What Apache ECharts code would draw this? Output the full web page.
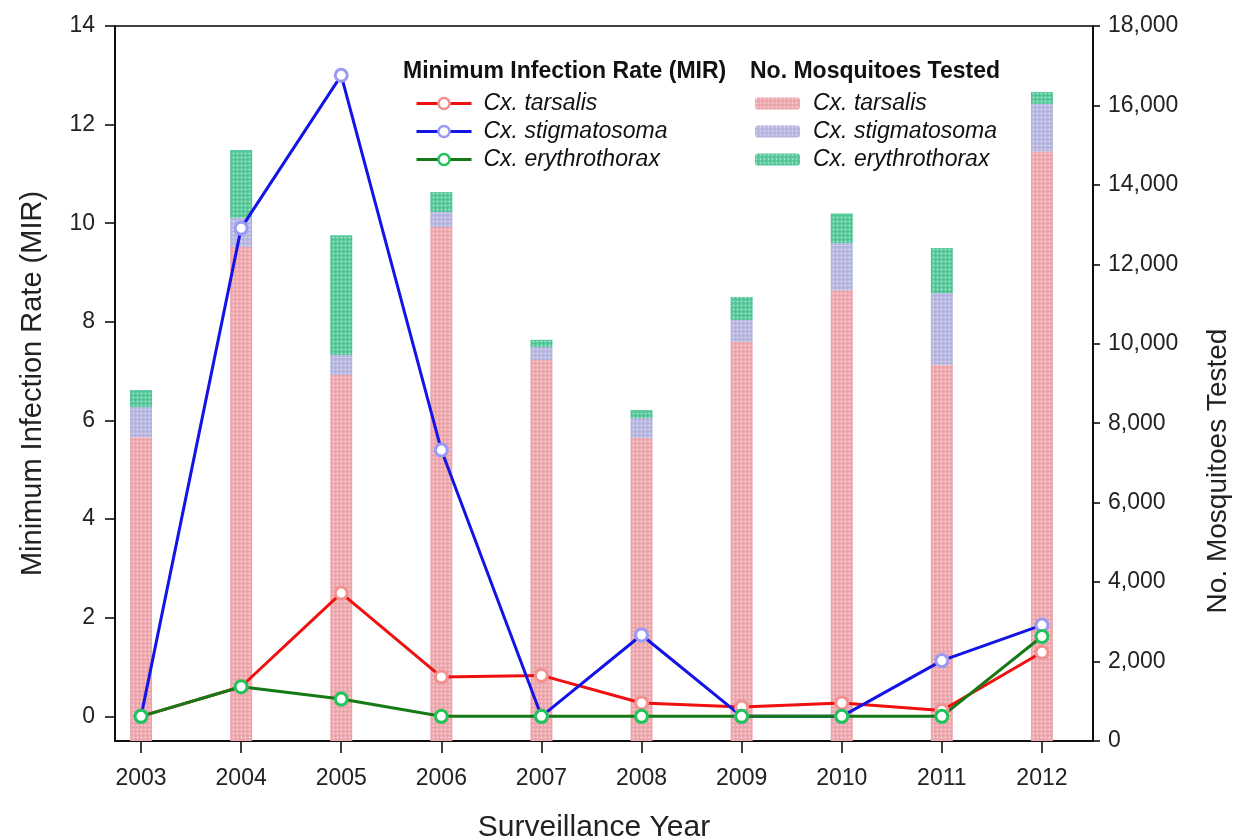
<!DOCTYPE html>
<html>
<head>
<meta charset="utf-8">
<script src="https://cdn.jsdelivr.net/npm/echarts@6/dist/echarts.min.js"></script>
<style>html,body{margin:0;padding:0;background:#fff}#c{width:1238px;height:840px}</style>
</head>
<body>
<div id="c"></div>
<script>
const years = [2003, 2004, 2005, 2006, 2007, 2008, 2009, 2010, 2011, 2012];
// Minimum infection rate (left axis)
const mirTarsalis = [0, 0.6, 2.5, 0.8, 0.83, 0.27, 0.19, 0.27, 0.12, 1.3];
const mirStigmatosoma = [0, 9.9, 13.0, 5.4, 0, 1.65, 0, 0, 1.13, 1.85];
const mirErythrothorax = [0, 0.6, 0.35, 0, 0, 0, 0, 0, 0, 1.62];
// Number of mosquitoes tested (right axis, stacked)
const testedTarsalis = [7650, 12440, 9215, 12940, 9590, 7630, 10050, 11350, 9470, 14840];
const testedStigmatosoma = [755, 730, 500, 380, 330, 500, 550, 1180, 1810, 1200];
const testedErythrothorax = [430, 1710, 3020, 500, 180, 200, 580, 750, 1130, 300];
const leftTicks = [0, 2, 4, 6, 8, 10, 12, 14];

const pair = arr => years.map((y, i) => [y, arr[i]]);
// value first so that the stack is computed on the value (y) dimension
const pairValueFirst = arr => years.map((y, i) => [arr[i], y]);
const FONT = '"Liberation Sans", Arial, sans-serif';

function barSeries(name, data, color) {
  return {
    type: 'bar', name: name, stack: 'tested', xAxisIndex: 0, yAxisIndex: 1,
    barWidth: 22, z: 1,
    dimensions: [{ name: 'count', type: 'float' }, { name: 'year', type: 'float' }],
    encode: { x: 'year', y: 'count' },
    data: pairValueFirst(data),
    itemStyle: {
      color: color,
      decal: { symbol: 'circle', symbolSize: 0.7, color: 'rgba(255,255,255,0.55)', dashArrayX: [[3, 1]], dashArrayY: [3, 1] }
    },
    emphasis: { disabled: true }
  };
}
function lineSeries(name, data, color, mcolor) {
  return {
    type: 'line', name: name, xAxisIndex: 0, yAxisIndex: 0, data: pair(data), z: 5,
    symbol: 'circle', symbolSize: 12, showAllSymbol: true,
    lineStyle: { color: color, width: 3 },
    itemStyle: { color: '#ffffff', borderColor: mcolor, borderWidth: 3 },
    emphasis: { disabled: true }
  };
}

const chart = echarts.init(document.getElementById('c'), null, { renderer: 'canvas' });
chart.setOption({
  animation: false,
  backgroundColor: '#ffffff',
  grid: { left: 115, right: 145, top: 26, bottom: 99, containLabel: false, outerBoundsMode: 'none',
          show: true, borderColor: '#000', borderWidth: 1.5, backgroundColor: 'transparent' },
  graphic: [
    { type: 'text', left: 403, top: 60, style: { text: 'Minimum Infection Rate (MIR)', font: 'bold 23px ' + FONT, fill: '#111' } },
    { type: 'text', left: 750, top: 60, style: { text: 'No. Mosquitoes Tested', font: 'bold 23px ' + FONT, fill: '#111' } },
    { type: 'text', x: 1218, y: 471, rotation: Math.PI / 2,
      style: { text: 'No. Mosquitoes Tested', font: '28px ' + FONT, fill: '#222', align: 'center', verticalAlign: 'middle' } }
  ],
  legend: [
    {
      orient: 'vertical', left: 415, top: 92, itemWidth: 55, itemHeight: 14, itemGap: 5, padding: 0,
      data: ['m1', 'm2', 'm3'],
      lineStyle: { width: 3 },
      itemStyle: { borderWidth: 2.5 },
      formatter: n => ({ m1: 'Cx. tarsalis', m2: 'Cx. stigmatosoma', m3: 'Cx. erythrothorax' })[n],
      textStyle: { fontFamily: FONT, fontSize: 23, fontStyle: 'italic', color: '#111', padding: [0, 0, 0, 7] },
      selectedMode: false
    },
    {
      orient: 'vertical', left: 755, top: 92, itemWidth: 45, itemHeight: 12, itemGap: 5, padding: 0,
      data: ['b1', 'b2', 'b3'],
      formatter: n => ({ b1: 'Cx. tarsalis', b2: 'Cx. stigmatosoma', b3: 'Cx. erythrothorax' })[n],
      textStyle: { fontFamily: FONT, fontSize: 23, fontStyle: 'italic', color: '#111', padding: [0, 0, 0, 8] },
      selectedMode: false
    }
  ],
  xAxis: {
    type: 'value', min: 2002.74, max: 2012.51,
    name: 'Surveillance Year', nameLocation: 'middle', nameGap: 72,
    nameTextStyle: { fontFamily: FONT, fontSize: 30, color: '#222', padding: [0, 20, 0, 0] },
    axisLine: { show: true, onZero: false, lineStyle: { color: '#000', width: 1.5 } },
    axisTick: { show: true, customValues: years, length: 12, lineStyle: { color: '#000', width: 1.5 } },
    axisLabel: { customValues: years, formatter: v => String(v), margin: 26, fontFamily: FONT, fontSize: 23, color: '#222' },
    splitLine: { show: false }
  },
  yAxis: [
    {
      type: 'value', min: -0.5, max: 14, position: 'left',
      name: 'Minimum Infection Rate (MIR)', nameLocation: 'middle', nameGap: 68, nameRotate: 90,
      nameTextStyle: { fontFamily: FONT, fontSize: 29, color: '#222' },
      axisLine: { show: true, onZero: false, lineStyle: { color: '#000', width: 1.5 } },
      axisTick: { show: true, customValues: leftTicks, length: 10, lineStyle: { color: '#000', width: 1.5 } },
      axisLabel: { customValues: leftTicks, margin: 20, fontFamily: FONT, fontSize: 23, color: '#222' },
      splitLine: { show: false }
    },
    {
      type: 'value', min: 0, max: 18000, interval: 2000, position: 'right',
      axisLine: { show: true, onZero: false, lineStyle: { color: '#000', width: 1.5 } },
      axisTick: { show: true, length: 7, lineStyle: { color: '#000', width: 1.5 } },
      axisLabel: { margin: 15, fontFamily: FONT, fontSize: 23, color: '#222', formatter: v => v.toLocaleString('en-US') },
      splitLine: { show: false }
    }
  ],
  series: [
    barSeries('b1', testedTarsalis, '#eba4aa'),
    barSeries('b2', testedStigmatosoma, '#b3b3de'),
    barSeries('b3', testedErythrothorax, '#52c597'),
    lineSeries('m1', mirTarsalis, '#f01010', '#f39090'),
    lineSeries('m2', mirStigmatosoma, '#1414e6', '#9a9af5'),
    lineSeries('m3', mirErythrothorax, '#157a15', '#22c25a')
  ]
});
</script>
</body>
</html>
